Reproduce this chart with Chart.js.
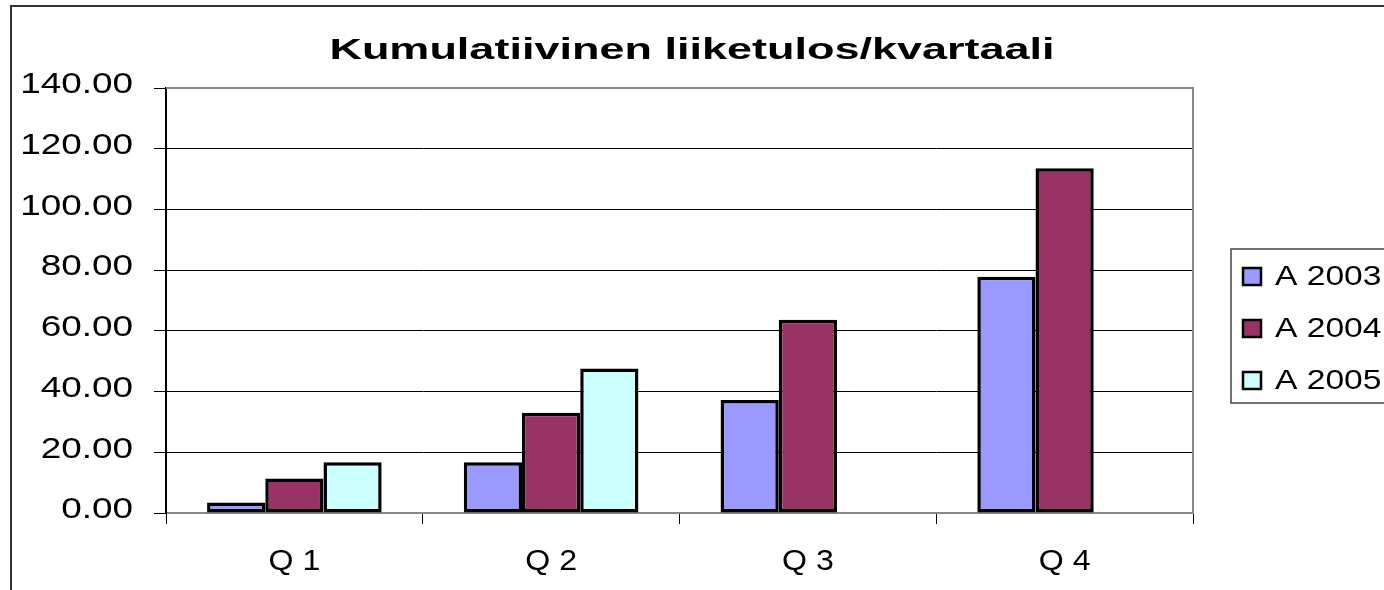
<!DOCTYPE html>
<html>
<head>
<meta charset="utf-8">
<script src="https://cdn.jsdelivr.net/npm/chart.js@4/dist/chart.umd.min.js"></script>
<style>
  html, body { margin: 0; padding: 0; background: #fff; }
  #wrap { width: 1384px; height: 590px; }
</style>
</head>
<body>
<div id="wrap"><canvas id="myChart"></canvas></div>
<script>
// data
const quarters = ['Q 1', 'Q 2', 'Q 3', 'Q 4'];
const seriesNames = ['A 2003', 'A 2004', 'A 2005'];
const a2003 = [3.5, 16.7, 37.2, 77.8];
const a2004 = [11.4, 33.0, 63.7, 113.6];
const a2005 = [16.7, 47.6, null, null];
const colors = ['#9999FF', '#993366', '#CCFFFF'];
const titleText = 'Kumulatiivinen liiketulos/kvartaali';

const fontFam = '"Liberation Sans", Arial, sans-serif';

// the original text is stretched sideways, so widen glyphs around their anchor
let stretchPlugin = {
  id: 'stretch',
  beforeInit: (chart) => {
    let c = chart.ctx;
    if (c._stretched) return;
    c._stretched = true;
    let orig = c.fillText.bind(c);
    c.fillText = function (text, x, y) {
      let sx = 1;
      if (c.font.indexOf('bold') >= 0) sx = 1.5;
      else if (c.textAlign === 'right') sx = 1.23;
      else if (c.textAlign === 'center') sx = 1.07;
      else sx = 1.2;
      c.save();
      c.translate(x, y);
      c.scale(sx, 1);
      orig(text, 0, 0);
      c.restore();
    };
  }
};

// outer frame + plot border (top/right) + boxed legend
let framePlugin = {
  id: 'frame',
  beforeDraw: (chart) => {
    let c = chart.ctx;
    c.save();
    c.strokeStyle = '#333';
    c.lineWidth = 2;
    c.beginPath();
    c.moveTo(11, 600);
    c.lineTo(11, 6);
    c.lineTo(1400, 6);
    c.stroke();
    c.restore();
  },
  afterDatasetsDraw: (chart) => {
    let c = chart.ctx;
    let a = chart.chartArea;
    c.save();
    c.strokeStyle = '#888';
    c.lineWidth = 2;
    c.beginPath();
    c.moveTo(a.left, a.top);
    c.lineTo(a.right, a.top);
    c.lineTo(a.right, a.bottom);
    c.stroke();
    c.restore();
  },
  afterDraw: (chart) => {
    let c = chart.ctx;
    c.save();
    c.strokeStyle = '#444';
    c.lineWidth = 1.5;
    c.strokeRect(1231, 249, 200, 154);
    c.font = '28px ' + fontFam;
    c.textBaseline = 'middle';
    c.textAlign = 'left';
    chart.data.datasets.forEach((ds, i) => {
      let y = 276 + i * 52;
      c.fillStyle = ds.backgroundColor;
      c.fillRect(1243, y - 8, 18, 17);
      c.strokeStyle = '#000';
      c.lineWidth = 2.5;
      c.strokeRect(1243, y - 8, 18, 17);
      c.fillStyle = '#000';
      c.fillText(ds.label, 1275, y + 1);
    });
    c.restore();
  }
};

let ctx = document.getElementById('myChart').getContext('2d');
let chart = new Chart(ctx, {
  type: 'bar',
  data: {
    labels: quarters,
    datasets: [
      { label: seriesNames[0], data: a2003, backgroundColor: colors[0] },
      { label: seriesNames[1], data: a2004, backgroundColor: colors[1] },
      { label: seriesNames[2], data: a2005, backgroundColor: colors[2] }
    ].map(d => Object.assign(d, {
      borderColor: '#000',
      borderWidth: 3.5,
      borderSkipped: false,
      categoryPercentage: 0.68,
      barPercentage: 1.0,
      yAxisID: 'y'
    }))
  },
  options: {
    responsive: true,
    maintainAspectRatio: false,
    animation: false,
    layout: { padding: 0 },
    plugins: {
      legend: { display: false },
      tooltip: { enabled: false },
      title: {
        display: true,
        text: titleText,
        color: '#000',
        font: { family: fontFam, size: 30, weight: 'bold', lineHeight: 1.2 },
        padding: { top: 33, bottom: 19 }
      }
    },
    scales: {
      x: {
        offset: true,
        grid: {
          offset: true,
          drawOnChartArea: false,
          drawTicks: true,
          tickLength: 11,
          color: '#000',
          lineWidth: 1
        },
        border: { color: '#888', width: 2 },
        ticks: {
          color: '#000',
          padding: 20,
          font: { family: fontFam, size: 30 }
        },
        afterFit: (s) => { s.height = 77; }
      },
      y: {
        min: 0,
        max: 140,
        grid: { color: '#000', lineWidth: 1, tickLength: 12 },
        border: { color: '#000', width: 2 },
        ticks: {
          stepSize: 20,
          color: '#000',
          padding: 21,
          labelOffset: -3,
          font: { family: fontFam, size: 30 },
          callback: (v) => v.toFixed(2)
        },
        afterFit: (s) => { s.width = 166; }
      },
      // empty space on the right for the legend box
      spacer: {
        type: 'linear',
        position: 'right',
        display: true,
        grid: { display: false },
        border: { display: false },
        ticks: { display: false },
        afterFit: (s) => { s.width = 191; }
      }
    }
  },
  plugins: [stretchPlugin, framePlugin]
});
</script>
</body>
</html>
